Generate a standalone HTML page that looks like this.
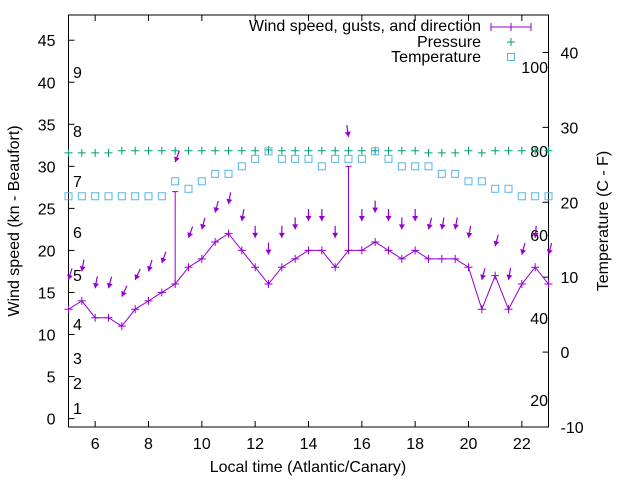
<!DOCTYPE html>
<html><head><meta charset="utf-8"><style>
body{margin:0;background:#fff}
svg{display:block;font-family:"Liberation Sans",sans-serif}
</style></head><body>
<svg id="chart" width="640" height="480" viewBox="0 0 640 480" xmlns="http://www.w3.org/2000/svg">
<g id="axes"></g><g id="marks"></g>
</svg>
<script>
const times=[5,5.5,6,6.5,7,7.5,8,8.5,9,9.5,10,10.5,11,11.5,12,12.5,13,13.5,14,14.5,15,15.5,16,16.5,17,17.5,18,18.5,19,19.5,20,20.5,21,21.5,22,22.5,23];
const speed=[13,14,12,12,11,13,14,15,16,18,19,21,22,20,18,16,18,19,20,20,18,20,20,21,20,19,20,19,19,19,18,13,17,13,16,18,16];
const gust=[13,14,12,12,11,13,14,15,27,18,19,21,22,20,18,16,18,19,20,20,18,30,20,21,20,19,20,19,19,19,18,13,17,13,16,18,16];
const direction=[17,10,10,15,25,25,17,20,20,20,15,15,10,10,0,0,0,0,0,0,0,-8,0,0,0,0,0,15,10,10,10,15,15,10,15,5,15];
const temperature=[20.8,20.8,20.8,20.8,20.8,20.8,20.8,20.8,22.8,21.8,22.8,23.8,23.8,24.8,25.8,26.8,25.8,25.8,25.8,24.8,25.8,25.8,25.8,26.8,25.8,24.8,24.8,24.8,23.8,23.8,22.8,22.8,21.8,21.8,20.8,20.8,20.8];
const pressure=[31.6,31.6,31.6,31.6,31.85,31.85,31.85,31.85,31.85,31.85,31.85,31.85,31.85,31.85,31.85,31.95,31.85,31.85,31.85,31.85,31.85,31.85,31.85,31.85,31.85,31.85,31.85,31.6,31.6,31.6,31.85,31.6,31.85,31.85,31.85,31.85,31.85];
const xTicks=[6,8,10,12,14,16,18,20,22];
const yTicks=[0,5,10,15,20,25,30,35,40,45];
const y2Ticks=[-10,0,10,20,30,40];
const beaufort=[[1,408],[2,383],[3,358],[4,324],[5,275],[6,232],[7,181],[8,131],[9,72]];
const fahrenheit=[[100,67],[80,151],[60,235],[40,318],[20,400]];

const FS=16;
const L=68.5,R=548.5,T=15,B=427;
const X=v=>L+(v-5)/(23-5)*(R-L);
const Y=v=>B-(v+1)/(48+1)*(B-T);
const Y2=v=>B-(v+10)/(45+10)*(B-T);
const NS="http://www.w3.org/2000/svg";
const ax=document.getElementById('axes'),mk=document.getElementById('marks');
function el(p,tag,a,txt){const e=document.createElementNS(NS,tag);for(const k in a)e.setAttribute(k,a[k]);if(txt!==undefined)e.textContent=txt;p.appendChild(e);return e;}

let e=el(ax,'rect',{x:L,y:T,width:R-L,height:B-T,fill:'none',stroke:'#000','stroke-width':1});


xTicks.forEach(v=>{
 el(ax,'line',{x1:X(v),x2:X(v),y1:B,y2:B-6,stroke:'#000'});
 el(ax,'line',{x1:X(v),x2:X(v),y1:T,y2:T+6,stroke:'#000'});
 const t=el(ax,'text',{x:X(v),y:B+22,'font-size':FS,'text-anchor':'middle'},v);
 
 
});
yTicks.forEach(v=>{
 el(ax,'line',{x1:L,x2:L+6,y1:Y(v),y2:Y(v),stroke:'#000'});
 const t=el(ax,'text',{x:L-13,y:Y(v)+6,'font-size':FS,'text-anchor':'end'},v);
 
 
});
y2Ticks.forEach(v=>{
 el(ax,'line',{x1:R,x2:R-6,y1:Y2(v),y2:Y2(v),stroke:'#000'});
 const t=el(ax,'text',{x:R+12,y:Y2(v)+6,'font-size':FS},v);
 
 
});
beaufort.forEach(([b,y])=>{
 const t=el(ax,'text',{x:73,y:y+6,'font-size':FS},b);
 
 
});
fahrenheit.forEach(([f,y])=>{
 const t=el(ax,'text',{x:548,y:y+6,'font-size':FS,'text-anchor':'end'},f);
 
 
});
e=el(ax,'text',{x:308,y:472,'font-size':FS,'text-anchor':'middle'},'Local time (Atlantic/Canary)');


e=el(ax,'text',{x:0,y:0,'font-size':FS,'text-anchor':'middle',transform:'translate(19,221) rotate(-90)'},'Wind speed (kn - Beaufort)');


e=el(ax,'text',{x:0,y:0,'font-size':FS,'text-anchor':'middle',transform:'translate(608,221) rotate(-90)'},'Temperature (C - F)');



const purple='#9400d3',green='#009e73',blue='#56b4e9';
pressure.forEach((p,i)=>{
 const x=X(times[i]),y=Y(p);
 const g=el(mk,'path',{d:`M${x-4},${y}h8M${x},${y-4}v8`,stroke:green,'stroke-width':1});
 
 
});
temperature.forEach((t,i)=>{
 const r=el(mk,'rect',{x:X(times[i])-3.5,y:Y2(t)-3.5,width:7,height:7,fill:'none',stroke:blue,'stroke-width':1});
 
 
});
e=el(mk,'polyline',{points:times.map((t,i)=>X(t)+','+Y(speed[i])).join(' '),fill:'none',stroke:purple,'stroke-width':1});


times.forEach((t,i)=>{
 const x=X(t),y=Y(speed[i]);
 const p=el(mk,'path',{d:`M${x-4},${y}h8M${x},${y-4}v8`,stroke:purple,'stroke-width':1});
 
 
 if(gust[i]>speed[i]){
  const gy=Y(gust[i]);
  const b=el(mk,'path',{d:`M${x},${y}V${gy}M${x-3},${gy}h6`,stroke:purple,'stroke-width':1});
  
  
 }
 const hy=Y(gust[i]+3.5),a=direction[i]*Math.PI/180,len=12;
 const tx=x+Math.sin(a)*len,ty=hy-Math.cos(a)*len;
 const ux=(x-tx)/len,uy=(hy-ty)/len;
 const ar=el(mk,'g',{});
 
 
 el(ar,'line',{x1:tx,y1:ty,x2:x,y2:hy,stroke:purple,'stroke-width':1.2});
 const bx=x-ux*5,by=hy-uy*5;
 el(ar,'polygon',{points:`${x},${hy} ${bx-uy*3},${by+ux*3} ${bx+uy*3},${by-ux*3}`,fill:purple});
});
const lg=el(ax,'g',{});


[['Wind speed, gusts, and direction',25],['Pressure',41],['Temperature',56]].forEach(([s,y])=>{
 const t=el(lg,'text',{x:481,y:y+6,'font-size':FS,'text-anchor':'end'},s);
 
 
});
el(lg,'path',{d:'M491,27h40M491,23v8M531,23v8M511,23v8',stroke:purple});
el(lg,'path',{d:'M507,42h8M511,38v8',stroke:green});
el(lg,'rect',{x:507.5,y:53.5,width:7,height:7,fill:'none',stroke:blue});
</script>
</body></html>
